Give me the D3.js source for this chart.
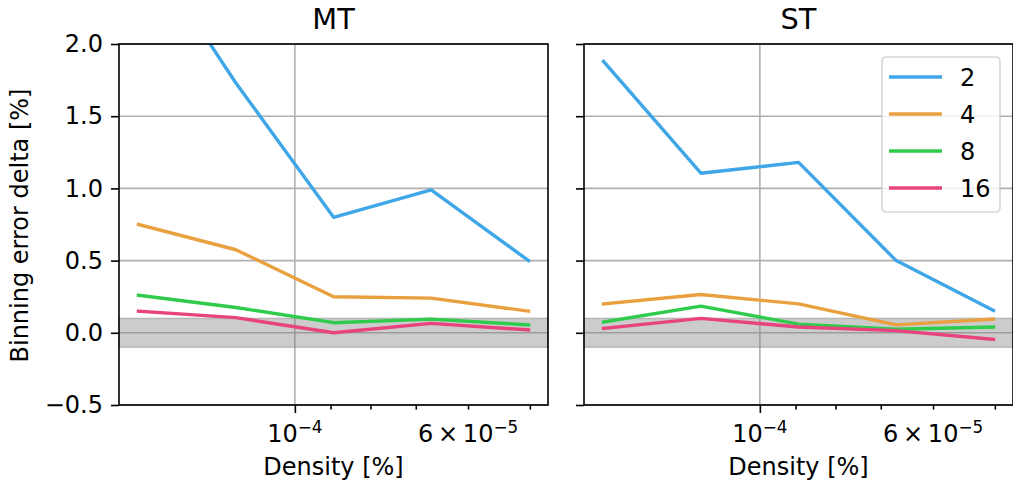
<!DOCTYPE html>
<html>

<head>
    <meta charset="utf-8">
    <title>Binning error delta vs density</title>
    <script src="https://d3js.org/d3.v7.min.js"></script>
    <style>
        body { margin: 0; background: #fff; }
        text { font-family: "DejaVu Sans", sans-serif; fill: #000; }
    </style>
</head>

<body>
    <div id="chart"></div>

    <script>
        // Density values (shared by both panels), largest first
        const densities = [1.586e-4, 1.19e-4, 8.92e-5, 6.69e-5, 5.02e-5];
        const seriesNames = ["2", "4", "8", "16"];
        const seriesColors = ["#3fa6e8", "#e9a03e", "#2fcc4c", "#e8437f"];

        // Binning error delta [%] per panel and series
        const mtValues = [
            [2.75, 1.73, 0.80, 0.99, 0.50],
            [0.75, 0.575, 0.25, 0.24, 0.15],
            [0.26, 0.175, 0.07, 0.095, 0.055],
            [0.15, 0.105, 0.0, 0.065, 0.02]
        ];
        const stValues = [
            [1.88, 1.105, 1.18, 0.50, 0.155],
            [0.20, 0.265, 0.20, 0.055, 0.095],
            [0.075, 0.185, 0.06, 0.025, 0.04],
            [0.03, 0.10, 0.04, 0.015, -0.045]
        ];
        const panelTitles = ["MT", "ST"];
        const yTicks = [-0.5, 0.0, 0.5, 1.0, 1.5, 2.0];
        const xMajorTicks = [1e-4];
        const xMinorTicks = [9e-5, 8e-5, 7e-5, 6e-5, 5e-5];
        const xTickLabels = [{ v: 1e-4, base: "10", exp: "\u22124" }, { v: 6e-5, base: "6\u2009\u00d7\u200910", exp: "\u22125" }];
        const bandLimits = [-0.1, 0.1];

        const W = 1013, H = 481;
        const panelW = 429, panelH = 361, panelTop = 44;
        const panelX = [119, 584];
        const fs = 24;

        const svg = d3.select("#chart").append("svg")
            .attr("width", W).attr("height", H);

        // log x axis with 5% margin (in log space), reversed
        const lmax = Math.log10(d3.max(densities)), lmin = Math.log10(d3.min(densities));
        const pad = (lmax - lmin) * 0.05;
        const x = d3.scaleLog()
            .domain([Math.pow(10, lmax + pad), Math.pow(10, lmin - pad)])
            .range([0, panelW]);
        const y = d3.scaleLinear().domain([-0.5, 2.0]).range([panelH, 0]);

        const line = d3.line()
            .x((d, i) => x(densities[i]))
            .y(d => y(d));

        [mtValues, stValues].forEach(function (values, p) {
            const g = svg.append("g").attr("transform", "translate(" + panelX[p] + "," + panelTop + ")");

            g.append("clipPath").attr("id", "clip" + p)
                .append("rect").attr("width", panelW).attr("height", panelH);

            // grid
            g.selectAll(".hgrid").data(yTicks).enter().append("line")
                .attr("x1", 0).attr("x2", panelW)
                .attr("y1", d => y(d)).attr("y2", d => y(d))
                .attr("stroke", "#b0b0b0").attr("stroke-width", 1.6);
            g.selectAll(".vgrid").data(xMajorTicks).enter().append("line")
                .attr("x1", d => x(d)).attr("x2", d => x(d))
                .attr("y1", 0).attr("y2", panelH)
                .attr("stroke", "#b0b0b0").attr("stroke-width", 1.6);

            // tolerance band
            g.append("rect")
                .attr("x", 0).attr("width", panelW)
                .attr("y", y(bandLimits[1]))
                .attr("height", y(bandLimits[0]) - y(bandLimits[1]))
                .attr("fill", "#808080").attr("fill-opacity", 0.4)
                .attr("stroke", "#808080").attr("stroke-opacity", 0.4).attr("stroke-width", 1.6);

            // series
            g.append("g").attr("clip-path", "url(#clip" + p + ")")
                .selectAll("path").data(values).enter().append("path")
                .attr("d", line)
                .attr("fill", "none")
                .attr("stroke", (d, i) => seriesColors[i])
                .attr("stroke-width", 3.4)
                .attr("stroke-linejoin", "round")
                .attr("stroke-linecap", "square");

            // axes
            const yAxis = d3.axisLeft(y).tickValues(yTicks).tickSize(8).tickPadding(8)
                .tickFormat(p === 0 ? d3.format(".1f") : "");
            const ya = g.append("g").call(yAxis);
            const xa = g.append("g").attr("transform", "translate(0," + panelH + ")")
                .call(d3.axisBottom(x).tickValues(xMajorTicks).tickSize(8).tickFormat(""));
            const xm = g.append("g").attr("transform", "translate(0," + panelH + ")")
                .call(d3.axisBottom(x).tickValues(xMinorTicks).tickSize(4.6).tickFormat(""));
            [ya, xa, xm].forEach(a => {
                a.select(".domain").remove();
                a.selectAll("line").attr("stroke", "#000").attr("stroke-width", 1.6);
                a.selectAll("text").style("font-size", fs + "px").style("font-family", "DejaVu Sans");
            });

            // x tick labels with superscript
            xTickLabels.forEach(function (t) {
                const txt = g.append("text")
                    .attr("x", x(t.v)).attr("y", panelH + 37)
                    .attr("text-anchor", "middle")
                    .style("font-size", fs + "px");
                txt.append("tspan").text(t.base);
                txt.append("tspan").attr("dy", -9).style("font-size", (fs * 0.7) + "px").text(t.exp);
            });

            // spines
            g.append("rect").attr("width", panelW).attr("height", panelH)
                .attr("fill", "none").attr("stroke", "#000").attr("stroke-width", 1.6);

            // title and x label
            g.append("text").attr("x", panelW / 2).attr("y", -15)
                .attr("text-anchor", "middle").style("font-size", "28.8px")
                .text(panelTitles[p]);
            g.append("text").attr("x", panelW / 2).attr("y", panelH + 70)
                .attr("text-anchor", "middle").style("font-size", fs + "px")
                .text("Density [%]");
        });

        // y label
        svg.append("text")
            .attr("transform", "translate(28," + (panelTop + panelH / 2 + 1) + ") rotate(-90)")
            .attr("text-anchor", "middle").style("font-size", fs + "px")
            .text("Binning error delta [%]");

        // legend in the right panel
        const lg = svg.append("g").attr("transform", "translate(882,57)");
        lg.append("rect").attr("width", 118).attr("height", 155).attr("rx", 4)
            .attr("fill", "#fff").attr("fill-opacity", 0.8)
            .attr("stroke", "#cccccc").attr("stroke-opacity", 0.8).attr("stroke-width", 1.6);
        seriesNames.forEach(function (name, i) {
            const ry = 20 + i * 37;
            lg.append("line").attr("x1", 7).attr("x2", 60).attr("y1", ry).attr("y2", ry)
                .attr("stroke", seriesColors[i]).attr("stroke-width", 3.4);
            lg.append("text").attr("x", 78).attr("y", ry + 8.5)
                .style("font-size", fs + "px").text(name);
        });
    </script>

</body>

</html>
